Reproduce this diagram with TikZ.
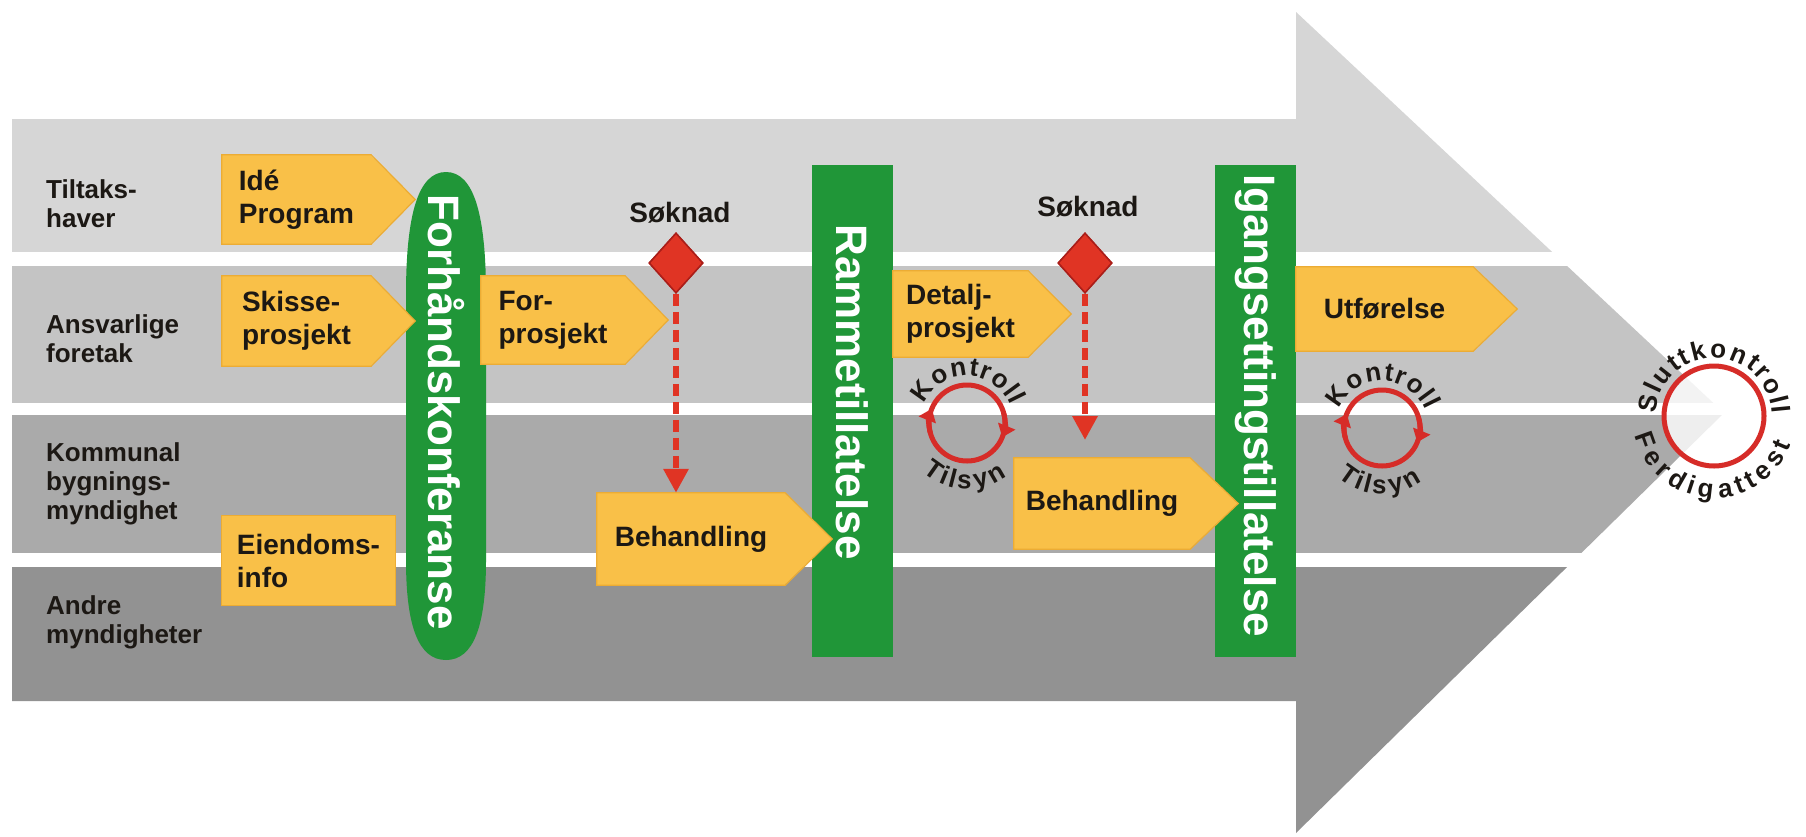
\documentclass[tikz,border=0pt]{standalone}
\usepackage{fontspec}
\setmainfont{Liberation Sans}
\usetikzlibrary{shapes.geometric,arrows.meta,decorations.text,calc}
\definecolor{sA}{RGB}{214,214,214}
\definecolor{sB}{RGB}{196,196,196}
\definecolor{sC}{RGB}{170,170,170}
\definecolor{sD}{RGB}{146,146,146}
\definecolor{yel}{RGB}{249,192,72}
\definecolor{yelD}{RGB}{236,172,52}
\definecolor{grn}{RGB}{32,150,56}
\definecolor{rd}{RGB}{224,52,36}
\definecolor{rdD}{RGB}{170,30,25}
\definecolor{ringc}{RGB}{214,44,40}
\definecolor{txt}{RGB}{28,24,20}
\newcommand{\myLaneFont}{\bfseries\fontsize{26}{29}\selectfont}
\newcommand{\myBoxFont}{\bfseries\fontsize{28}{33}\selectfont}
\newcommand{\myBarFont}{\bfseries\fontsize{44}{50}\selectfont}
\newcommand{\myCircFont}{\bfseries\fontsize{26}{29}\selectfont}
\newcommand{\yshape}[2]{%
  \fill[yel] ($(#1.north east)+(-1,0)$) -- ($(#1.east)+(#2,0)$) -- ($(#1.south east)+(-1,0)$) -- cycle;
  \draw[yelD, line width=1.2] (#1.north west) -- (#1.north east) -- ($(#1.east)+(#2,0)$) -- (#1.south east) -- (#1.south west) -- cycle;}
\begin{document}
\begin{tikzpicture}[x=1pt,y=1pt,
  lane/.style={anchor=west, align=left, inner sep=0, font=\myLaneFont, text=txt},
  ybox/.style={fill=yel, align=left, inner sep=0, font=\myBoxFont, text=txt},
  gbar/.style={fill=grn, inner sep=0},
  gtext/.style={rotate=-90, text=white, font=\myBarFont, inner sep=0},
  dia/.style={diamond, fill=rd, draw=rdD, line width=1.5, minimum width=54, minimum height=60, inner sep=0},
  soek/.style={font=\myBoxFont, text=txt, inner sep=0},
  dasharrow/.style={draw=rd, line width=6, dash pattern=on 12 off 6, -{Triangle[length=24,width=24]}},
  kring/.style={circle, draw=ringc, line width=5, inner sep=0},
  circarr/.style={draw=ringc, line width=5, -{Triangle[length=12,width=18]}},
  ctext/.style={decorate, decoration={text effects along path, text={#1},
     text effects/.cd, text along path, fit text to path,
     characters={text=txt, font=\myCircFont, inner sep=0, anchor=base}}}
]
\useasboundingbox (0,0) rectangle (1806,-836);
\fill[white] (0,0) rectangle (1806,-836);
% big striped arrow
\begin{scope}
\clip (12,-119) -- (1296,-119) -- (1296,-12) -- (1724,-413) -- (1296,-833) -- (1296,-701) -- (12,-701) -- cycle;
\fill[sA] (0,0) rectangle (1806,-252);
\fill[sB] (0,-266) rectangle (1806,-403);
\fill[sC] (0,-415) rectangle (1806,-553);
\fill[sD] (0,-567) rectangle (1806,-836);
\end{scope}
% lane labels
\node[lane] (l1) at (46,-204) {Tiltaks-\\haver};
\node[lane] (l2) at (46,-339) {Ansvarlige\\foretak};
\node[lane] (l3) at (46,-484) {Kommunal\\bygnings-\\myndighet};
\node[lane] (l4) at (46,-622) {Andre\\myndigheter};
% green bars
\fill[grn] (446,-172) .. controls (474,-172) and (486,-215) .. (486,-295)
  -- (486,-560) .. controls (486,-625) and (474,-660) .. (446,-660)
  .. controls (418,-660) and (406,-625) .. (406,-560)
  -- (406,-295) .. controls (406,-215) and (418,-172) .. (446,-172) -- cycle;
\node[gtext] (forh) at (446,-412) {Forhåndskonferanse};
\node[gbar, minimum width=81, minimum height=492] (ramme) at (852.5,-411) {};
\node[gtext] (rammet) at (852.5,-392) {Rammetillatelse};
\node[gbar, minimum width=81, minimum height=492] (igang) at (1255.5,-411) {};
\node[gtext] (igangt) at (1255.5,-406) {Igangsettingstillatelse};
% yellow boxes
\node[ybox, minimum width=149, minimum height=89] (ide) at (296.5,-199.5) {Idé\\Program};
\yshape{ide}{44}
\node[ybox, minimum width=149, minimum height=90] (skisse) at (296.5,-321) {Skisse-\\prosjekt};
\yshape{skisse}{44}
\node[ybox, minimum width=173, minimum height=89] (eiend) at (308.5,-560.5) {Eiendoms-\\info};
\draw[yelD, line width=1.2] (eiend.north west) rectangle (eiend.south east);
\node[ybox, minimum width=144, minimum height=88] (forpro) at (553,-320) {For-\\prosjekt};
\yshape{forpro}{43}
\node[ybox, minimum width=188, minimum height=92] (beh1) at (691,-539) {Behandling};
\yshape{beh1}{47}
\node[ybox, minimum width=135, minimum height=86] (detalj) at (960.5,-314) {Detalj-\\prosjekt};
\yshape{detalj}{43}
\node[ybox, minimum width=176, minimum height=91] (beh2) at (1102,-503.5) {Behandling};
\yshape{beh2}{48}
\node[ybox, minimum width=177, minimum height=84] (utf) at (1384.5,-309) {Utførelse};
\yshape{utf}{44}
% soknad
\node[soek] (sk1) at (680,-213) {Søknad};
\node[soek] (sk2) at (1088,-207) {Søknad};
\node[dia] (d1) at (676,-263) {};
\node[dia] (d2) at (1085,-263) {};
\coordinate (e2) at (1085,-440);
\draw[dasharrow] (d1.south) -- (d1.south |- beh1.north);
\draw[dasharrow] (d2.south) -- (e2);
\node[dia] at (d1) {};
\node[dia] at (d2) {};
% kontroll rings
\node[kring, minimum size=76] (k1) at (967,-423) {};
\draw[circarr] ($(k1)+(195:38)$) arc (195:158:38);
\draw[circarr] ($(k1)+(15:38)$) arc (15:-22:38);
\path[ctext=Kontroll] ($(k1)+(156:47)$) arc (156:22:47);
\path[ctext=Tilsyn] ($(k1)+(228:66)$) arc (228:307:66);
\node[kring, minimum size=76] (k2) at (1382,-428) {};
\draw[circarr] ($(k2)+(195:38)$) arc (195:158:38);
\draw[circarr] ($(k2)+(15:38)$) arc (15:-22:38);
\path[ctext=Kontroll] ($(k2)+(156:47)$) arc (156:22:47);
\path[ctext=Tilsyn] ($(k2)+(228:66)$) arc (228:307:66);
% sluttkontroll
\node[kring, minimum size=100, fill=white, fill opacity=0.8] (slutt) at (1714,-416) {};
\path[ctext=Sluttkontroll] ($(slutt)+(178:58)$) arc (178:2:58);
\path[ctext=Ferdigattest] ($(slutt)+(194:82)$) arc (194:340:82);
\end{tikzpicture}
\end{document}
